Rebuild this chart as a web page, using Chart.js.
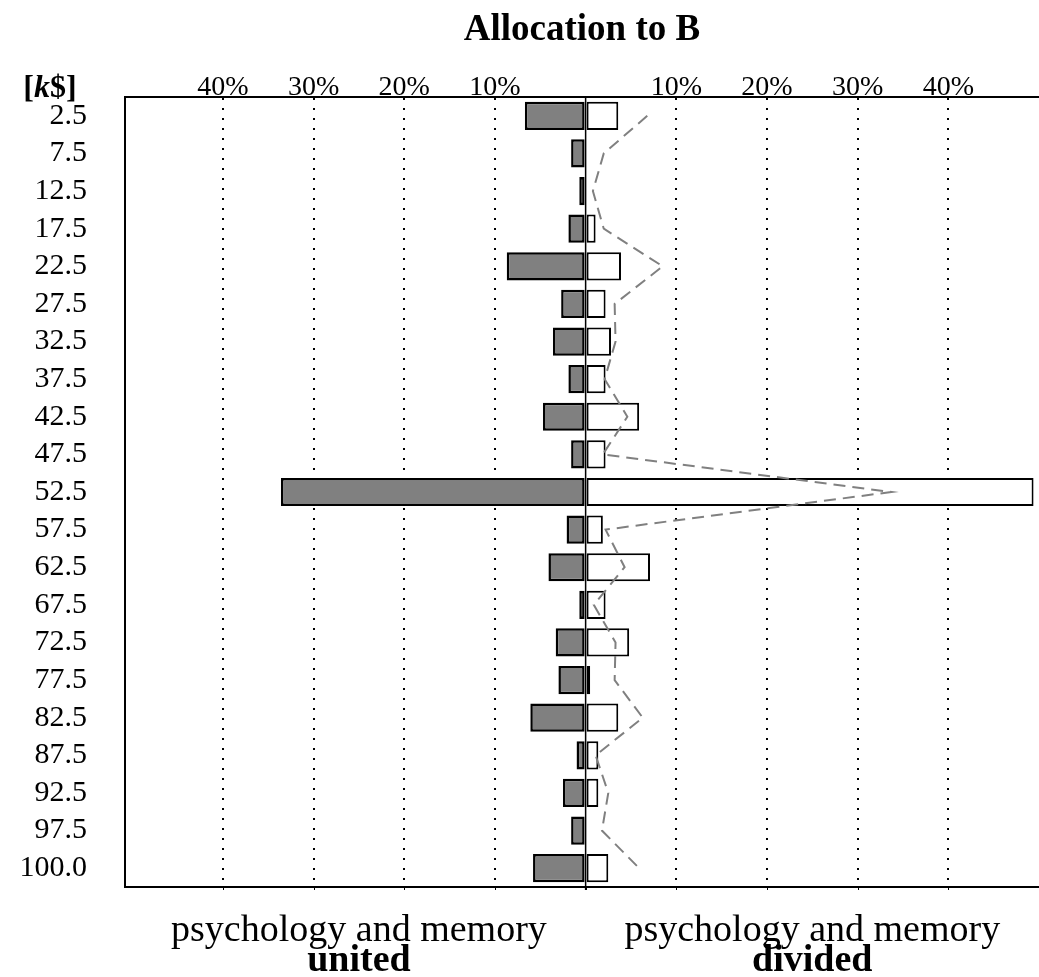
<!DOCTYPE html>
<html><head><meta charset="utf-8">
<script src="https://cdn.jsdelivr.net/npm/chart.js@4.4.1/dist/chart.umd.min.js"></script>
<style>html,body{margin:0;padding:0;background:#fff;overflow:hidden}</style>
</head><body>
<canvas id="c" width="1039" height="977"></canvas>
<script>
const categories = ['2.5','7.5','12.5','17.5','22.5','27.5','32.5','37.5','42.5','47.5','52.5','57.5','62.5','67.5','72.5','77.5','82.5','87.5','92.5','97.5','100.0'];
const unitedValues = [6.7,1.6,0.7,1.9,8.7,2.7,3.6,1.9,4.7,1.6,33.6,2.1,4.1,0.7,3.3,3.0,6.1,1.0,2.5,1.6,5.8];
const dividedValues = [3.6,0,0,1.1,3.9,2.2,2.8,2.2,5.9,2.2,49.4,1.9,7.1,2.2,4.8,0.5,3.6,1.4,1.4,0,2.5];
const dashedValues = [6.8,2.0,0.8,2.0,8.5,3.2,3.3,2.1,4.6,1.9,33.7,2.2,4.3,0.9,3.3,3.2,6.3,1.1,2.5,1.8,5.9];
const tickValues = [-40,-30,-20,-10,0,10,20,30,40];
const chartTitle = 'Allocation to B';
const leftLabel = ['psychology and memory', 'united'];
const rightLabel = ['psychology and memory', 'divided'];

const SERIF = "'Liberation Serif', 'Times New Roman', serif";

const extras = {
  id: 'extras',
  afterDatasetsDraw(chart) {
    const {ctx, chartArea: a, scales: {x}} = chart;
    ctx.save();
    ctx.strokeStyle = '#000';
    ctx.lineWidth = 2;
    ctx.beginPath(); ctx.moveTo(a.left - 1, a.bottom); ctx.lineTo(a.right, a.bottom); ctx.stroke();
    ctx.lineWidth = 1;
    tickValues.forEach(v => {
      const px = Math.round(x.getPixelForValue(v)) + 0.5;
      ctx.beginPath(); ctx.moveTo(px, a.bottom); ctx.lineTo(px, a.bottom + 3); ctx.stroke();
    });
    const x0 = x.getPixelForValue(0);
    ctx.lineWidth = 1.5;
    ctx.beginPath(); ctx.moveTo(x0, a.top); ctx.lineTo(x0, a.bottom + 3); ctx.stroke();
    ctx.restore();
  },
  afterDraw(chart) {
    const {ctx, chartArea: a, scales: {x}} = chart;
    ctx.save();
    ctx.fillStyle = '#000';
    ctx.textBaseline = 'alphabetic';
    ctx.textAlign = 'center';
    ctx.font = 'bold 37px ' + SERIF;
    ctx.fillText(chartTitle, (a.left + a.right) / 2, 40);
    ctx.textAlign = 'left';
    const parts = [['[', 'bold 32px '], ['k', 'italic bold 32px '], ['$]', 'bold 32px ']];
    let w = 0;
    parts.forEach(p => { ctx.font = p[1] + SERIF; w += ctx.measureText(p[0]).width; });
    let cx = 50 - w / 2;
    parts.forEach(p => { ctx.font = p[1] + SERIF; ctx.fillText(p[0], cx, 97); cx += ctx.measureText(p[0]).width; });
    ctx.textAlign = 'center';
    [[-25, leftLabel], [25, rightLabel]].forEach(([v, lab]) => {
      const px = x.getPixelForValue(v);
      ctx.font = '38px ' + SERIF;
      ctx.fillText(lab[0], px, 941);
      ctx.font = 'bold 38px ' + SERIF;
      ctx.fillText(lab[1], px, 971);
    });
    ctx.restore();
  }
};

new Chart(document.getElementById('c'), {
  type: 'bar',
  data: {
    labels: categories,
    datasets: [
      {
        type: 'line', indexAxis: 'y', label: 'dashed',
        data: dashedValues,
        borderColor: '#808080', borderWidth: 2, borderDash: [12, 7],
        pointRadius: 0, fill: false, tension: 0, order: 0
      },
      {
        label: 'united', stack: 's',
        data: unitedValues.map(v => -v),
        backgroundColor: '#808080', borderColor: '#000', borderWidth: 2.5,
        borderSkipped: false, categoryPercentage: 0.75, barPercentage: 1, order: 1
      },
      {
        label: 'divided', stack: 's',
        data: dividedValues,
        backgroundColor: '#ffffff', borderColor: '#000', borderWidth: 2,
        borderSkipped: false, categoryPercentage: 0.75, barPercentage: 1, order: 2
      }
    ]
  },
  options: {
    responsive: false, animation: false, indexAxis: 'y',
    layout: {padding: {left: 0, right: 0, top: 0, bottom: 90}},
    plugins: {legend: {display: false}, tooltip: {enabled: false}, title: {display: false}},
    scales: {
      x: {
        type: 'linear', position: 'top', min: -50.8, max: 50,
        afterBuildTicks: s => { s.ticks = tickValues.map(v => ({value: v})); },
        afterFit: s => { s.height = 97; },
        grid: {
          drawTicks: false, lineWidth: 2,
          color: c => (c.tick && c.tick.value !== 0) ? '#000' : 'rgba(0,0,0,0)'
        },
        border: {display: true, color: '#000', width: 2, dash: [2, 8]},
        ticks: {
          font: {family: SERIF, size: 28}, color: '#000', padding: -7,
          autoSkip: false, maxRotation: 0,
          callback: v => v === 0 ? '' : Math.abs(v) + '%'
        }
      },
      y: {
        stacked: true,
        afterFit: s => { s.width = 125; },
        grid: {display: false, drawTicks: false},
        border: {display: true, color: '#000', width: 2},
        ticks: {font: {family: SERIF, size: 30}, color: '#000', padding: 38, autoSkip: false}
      }
    }
  },
  plugins: [extras]
});
</script>
</body></html>
